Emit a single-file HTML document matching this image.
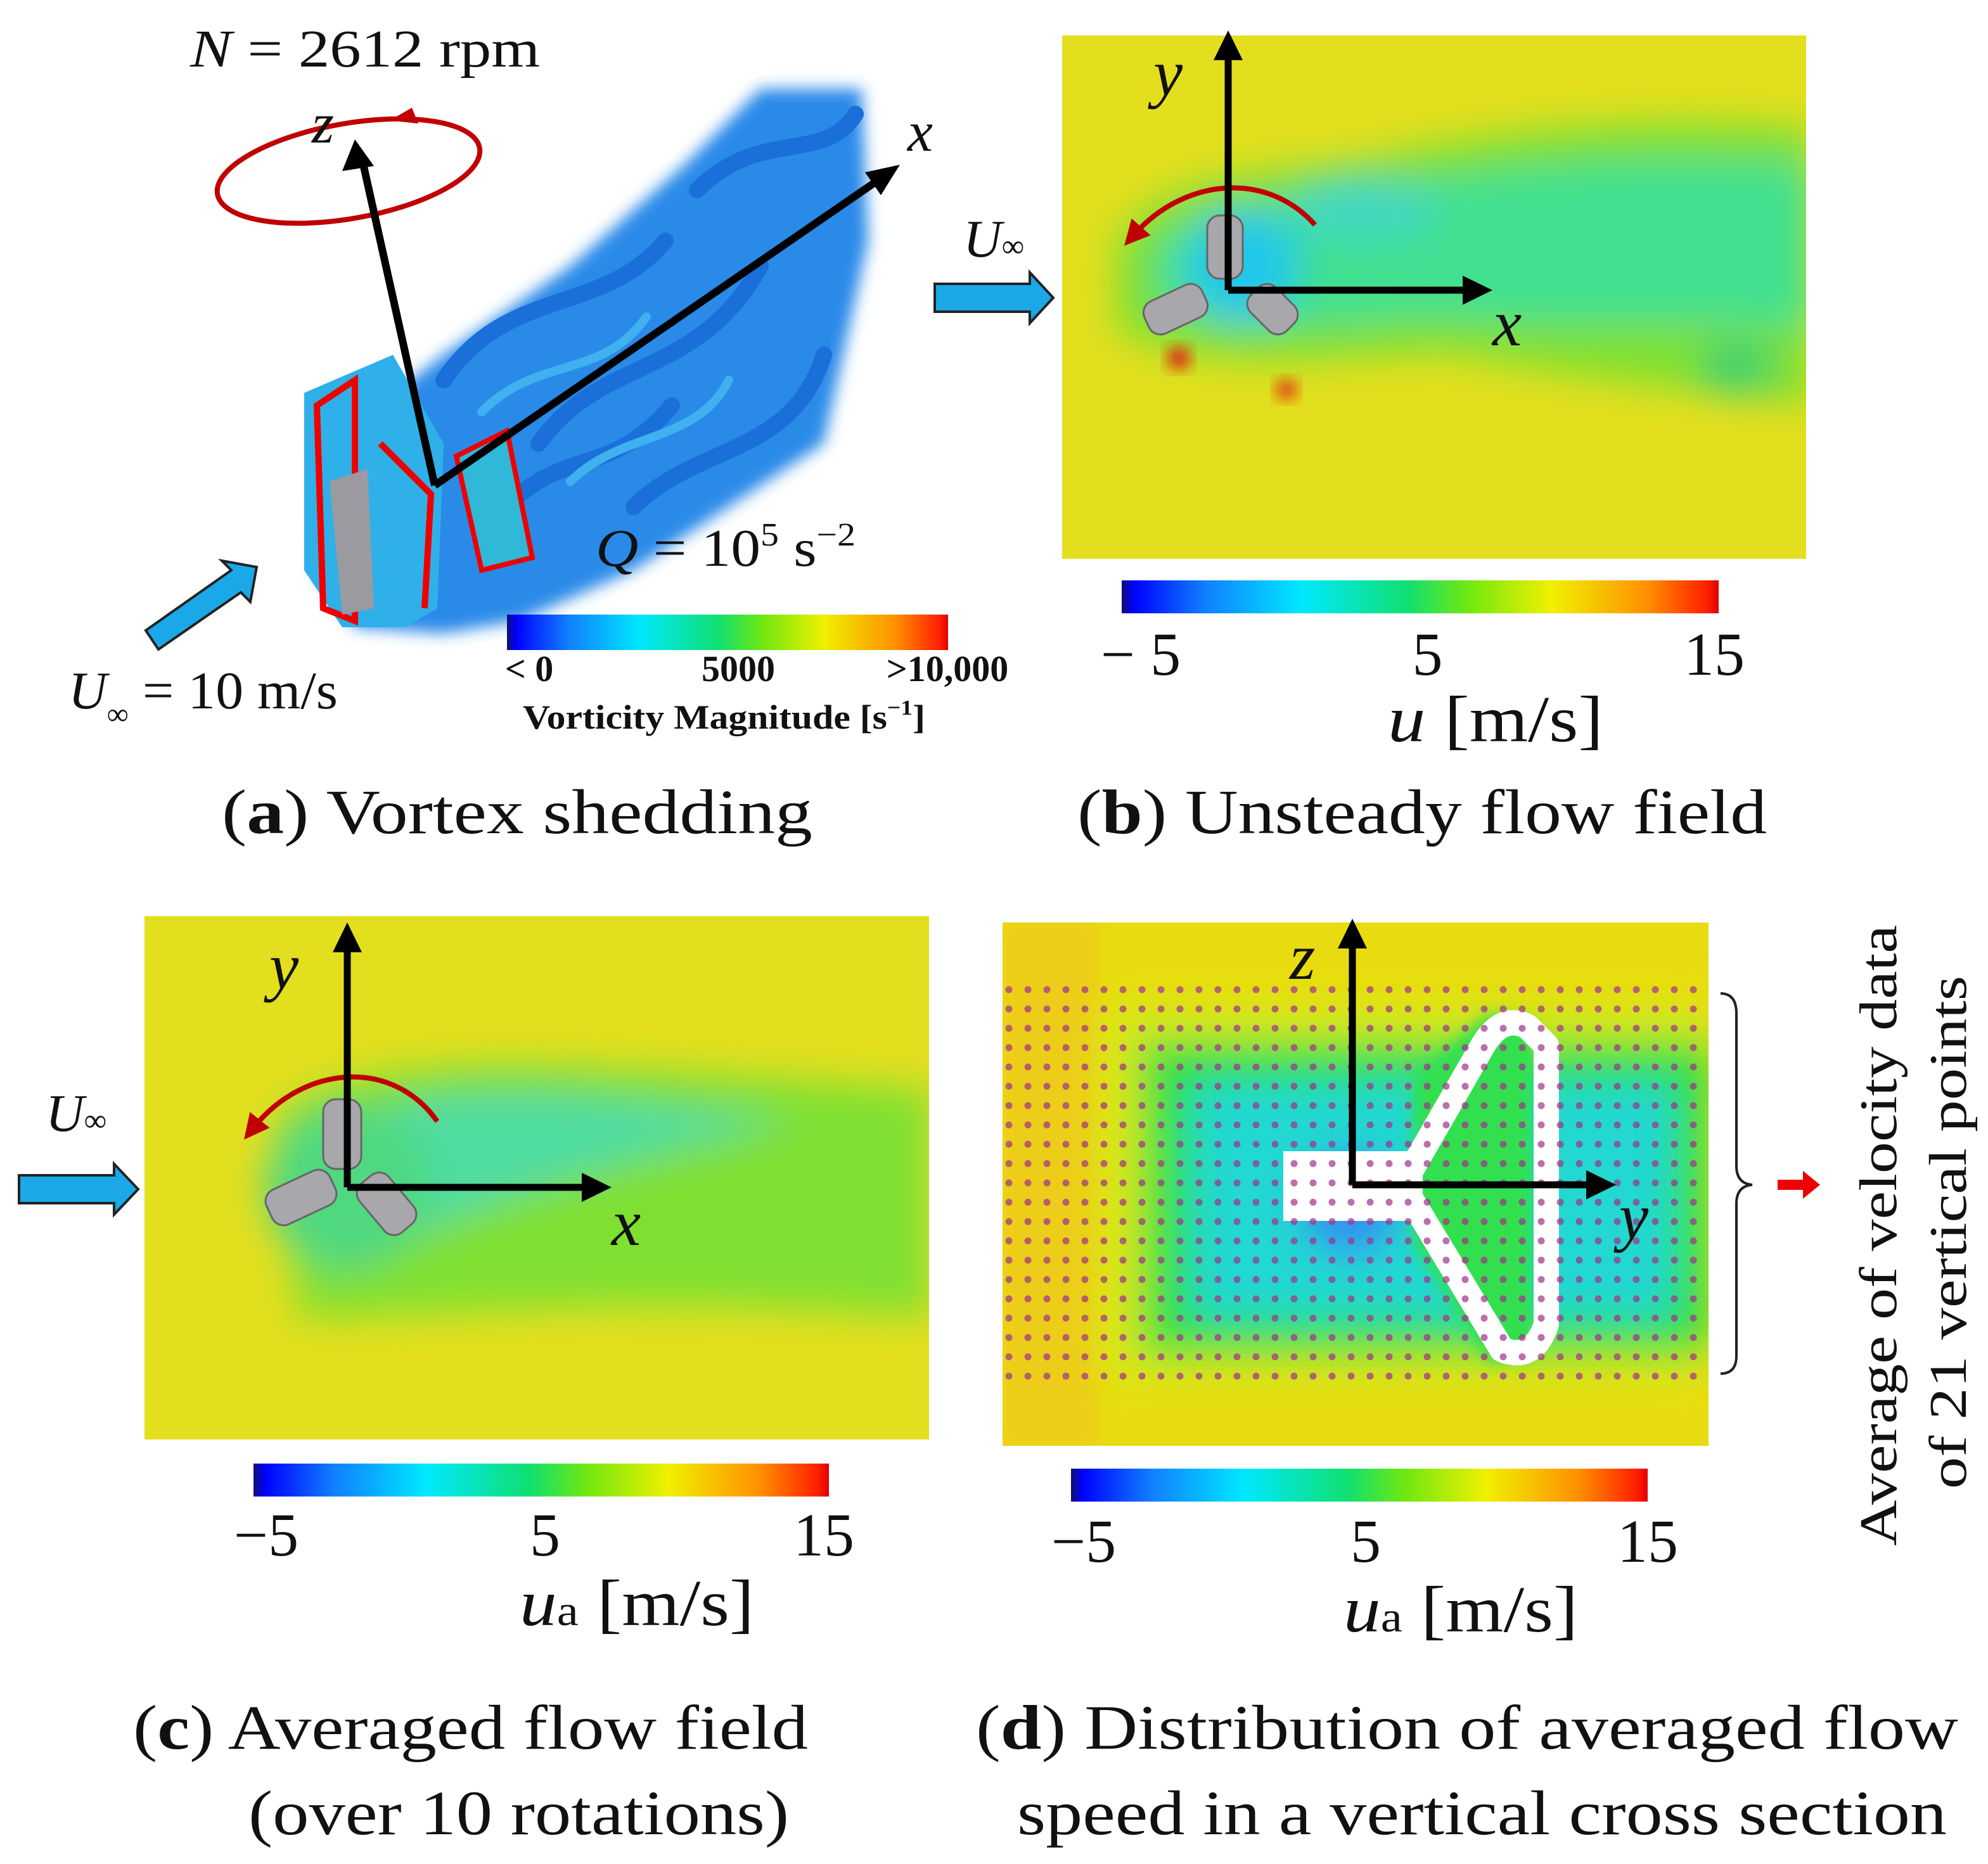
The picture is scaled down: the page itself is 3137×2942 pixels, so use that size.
<!DOCTYPE html>
<html><head><meta charset="utf-8"><style>
html,body{margin:0;padding:0;background:#fff}
svg{display:block}
text{font-family:"Liberation Serif",serif;fill:#111}
</style></head><body>
<svg id="fig" width="3137" height="2942" viewBox="0 0 3137 2942" xmlns="http://www.w3.org/2000/svg">
<defs>
<linearGradient id="jet" x1="0" x2="1" y1="0" y2="0">
<stop offset="0" stop-color="#101070"/><stop offset="0.02" stop-color="#0000ff"/><stop offset="0.14" stop-color="#1080ff"/>
<stop offset="0.3" stop-color="#00e8ff"/><stop offset="0.48" stop-color="#10e070"/><stop offset="0.58" stop-color="#70e810"/>
<stop offset="0.72" stop-color="#f0f000"/><stop offset="0.88" stop-color="#ff9000"/><stop offset="0.98" stop-color="#ff2000"/><stop offset="1" stop-color="#e00000"/>
</linearGradient>
<filter id="blur" x="-30%" y="-30%" width="160%" height="160%"><feGaussianBlur stdDeviation="30"/></filter>
<filter id="blur2" x="-30%" y="-30%" width="160%" height="160%"><feGaussianBlur stdDeviation="12"/></filter>
<clipPath id="cb"><rect x="1676" y="56" width="1174" height="826"/></clipPath>
<clipPath id="cc"><rect x="228" y="1446" width="1238" height="826"/></clipPath>
<clipPath id="cd"><rect x="1582" y="1456" width="1114" height="826"/></clipPath>
<marker id="ahr" markerWidth="5" markerHeight="5" refX="2" refY="2.5" orient="auto" markerUnits="strokeWidth"><path d="M0,0 L5,2.5 L0,5 z" fill="#c00000"/></marker>
</defs>

<!-- Panel A -->
<g>
<g>
<path d="M520,700 L700,560 L900,420 L1080,260 L1200,140 L1360,140 L1370,380 L1300,700 L1000,900 L820,980 L700,1000 L560,990 L500,900 z" fill="#2a8ae8" filter="url(#blur2)"/>
<g fill="none" stroke="#1a6fd8" stroke-width="26" stroke-linecap="round">
<path d="M700,600 C800,450 950,500 1050,380"/><path d="M850,700 C950,560 1100,600 1200,420"/>
<path d="M1000,800 C1100,700 1250,720 1300,560"/><path d="M1100,300 C1200,200 1300,260 1350,180"/>
<path d="M780,820 C880,700 960,760 1060,640"/>
</g>
<g fill="none" stroke="#40b0f0" stroke-width="14" stroke-linecap="round">
<path d="M760,650 C850,560 950,600 1020,500"/><path d="M900,760 C980,680 1100,700 1150,600"/>
</g>
<path d="M480,620 L620,560 L700,700 L690,960 L640,990 L540,990 L480,900 z" fill="#30b0e8"/>
<path d="M500,640 L560,600 L560,980 L510,960 z" fill="none" stroke="#e00" stroke-width="10"/>
<path d="M600,700 L680,780 L670,960" fill="none" stroke="#e00" stroke-width="10"/>
<path d="M520,760 L580,740 L590,960 L540,970 z" fill="#9a9aa0"/>
<path d="M720,720 L800,680 L840,880 L760,900 z" fill="#30b8d8" stroke="#e00" stroke-width="8"/>
</g>
<text x="300" y="105" font-size="84" textLength="552" lengthAdjust="spacingAndGlyphs"><tspan font-style="italic">N</tspan> = 2612 rpm</text>
<ellipse cx="550" cy="270" rx="210" ry="75" fill="none" stroke="#c00000" stroke-width="8" stroke-dasharray="1000 100" transform="rotate(-10 550 270)"/>
<path d="M660,195 L615,190 L650,170 z" fill="#c00000"/>
<line x1="686" y1="766" x2="570" y2="245" stroke="#000" stroke-width="12"/>
<path d="M560,220 L540,270 L590,262 z" fill="#000"/>
<line x1="686" y1="766" x2="1395" y2="278" stroke="#000" stroke-width="12"/>
<path d="M1420,260 L1365,272 L1390,308 z" fill="#000"/>
<text x="492" y="225" font-size="90" font-style="italic">z</text>
<text x="1432" y="238" font-size="90" font-style="italic">x</text>
<text x="940" y="893" font-size="84" textLength="410" lengthAdjust="spacingAndGlyphs"><tspan font-style="italic">Q</tspan> = 10<tspan font-size="52" dy="-32">5</tspan><tspan dy="32"> s</tspan><tspan font-size="52" dy="-32">−2</tspan></text>
<path d="M230,995 L365,900 L350,885 L405,895 L395,950 L380,935 L250,1025 z" fill="#1aa8e8" stroke="#222" stroke-width="4"/>
<text x="108" y="1118" font-size="84"><tspan font-style="italic">U</tspan><tspan font-size="48" dy="25">∞</tspan><tspan dy="-25" textLength="330" lengthAdjust="spacingAndGlyphs"> = 10 m/s</tspan></text>
<rect x="800" y="970" width="696" height="56" fill="url(#jet)"/>
<g id="ticksA" font-weight="bold" font-size="58"></g>
<text x="825" y="1150" font-size="54" font-weight="bold" textLength="635" lengthAdjust="spacingAndGlyphs">Vorticity Magnitude [s<tspan font-size="34" dy="-22">−1</tspan><tspan dy="22">]</tspan></text>
<text x="350" y="1315" font-size="100" textLength="932" lengthAdjust="spacingAndGlyphs">(<tspan font-weight="bold">a</tspan>) Vortex shedding</text>
</g>

<!-- Panel B -->
<g>
<g clip-path="url(#cb)">
<rect x="1676" y="56" width="1174" height="826" fill="#e3df1e"/>
<g filter="url(#blur)">
<path d="M1760,380 C1850,250 2050,280 2200,240 C2400,200 2600,180 2860,200 L2860,640 C2700,620 2500,600 2300,560 C2100,560 1900,600 1760,520 z" fill="#7ee030"/>
<path d="M1820,400 C1900,300 2050,330 2200,290 C2400,260 2600,240 2860,260 L2860,520 C2650,500 2450,520 2250,500 C2050,520 1900,530 1820,470 z" fill="#40e090"/>
<ellipse cx="1960" cy="420" rx="90" ry="90" fill="#20c8e8"/>
<ellipse cx="2150" cy="330" rx="120" ry="50" fill="#40d8c0"/>
<ellipse cx="2740" cy="580" rx="60" ry="40" fill="#30d070"/>
</g>
<circle cx="1860" cy="565" r="18" fill="#e02010" filter="url(#blur2)"/>
<circle cx="2030" cy="615" r="16" fill="#e03010" filter="url(#blur2)"/>
<g fill="#a8a8ac" stroke="#666" stroke-width="3">
<rect x="1905" y="340" width="56" height="100" rx="20"/>
<rect x="1805" y="460" width="100" height="56" rx="20" transform="rotate(-25 1855 488)"/>
<rect x="1968" y="460" width="80" height="56" rx="20" transform="rotate(45 2008 488)"/>
</g>
</g>
<path d="M2075,355 C2000,270 1870,280 1790,370" fill="none" stroke="#c00000" stroke-width="8" marker-end="url(#ahr)"/>
<line x1="1938" y1="458" x2="1938" y2="85" stroke="#000" stroke-width="11"/>
<path d="M1938,48 L1915,95 L1961,95 z" fill="#000"/>
<line x1="1938" y1="458" x2="2315" y2="458" stroke="#000" stroke-width="11"/>
<path d="M2355,458 L2308,435 L2308,481 z" fill="#000"/>
<text x="1820" y="150" font-size="104" font-style="italic">y</text>
<text x="2355" y="545" font-size="104" font-style="italic">x</text>
<text x="1520" y="405" font-size="84" font-style="italic">U<tspan font-size="50" font-style="normal">∞</tspan></text>
<path d="M1475,448 L1625,448 L1625,430 L1662,470 L1625,510 L1625,492 L1475,492 z" fill="#1aa8e8" stroke="#222" stroke-width="4"/>
<rect x="1770" y="916" width="942" height="52" fill="url(#jet)"/>
<g id="ticksB" font-size="96"></g>
<text x="2190" y="1170" font-size="104" textLength="340" lengthAdjust="spacingAndGlyphs"><tspan font-style="italic">u</tspan> [m/s]</text>
<text x="1700" y="1315" font-size="100" textLength="1088" lengthAdjust="spacingAndGlyphs">(<tspan font-weight="bold">b</tspan>) Unsteady flow field</text>
</g>

<!-- Panel C -->
<g>
<g clip-path="url(#cc)">
<rect x="228" y="1446" width="1238" height="826" fill="#e3df1e"/>
<g filter="url(#blur)">
<path d="M440,1760 C600,1640 900,1680 1470,1720 L1470,2080 C1000,2040 700,2080 470,2080 z" fill="#80e030"/>
<path d="M520,1780 C700,1690 900,1720 1250,1770 C1000,1830 800,1880 640,1960 C560,1960 500,1900 520,1780z" fill="#50dca0"/>
<circle cx="548" cy="1874" r="130" fill="#50d880"/>
</g>
<g fill="#a8a8ac" stroke="#666" stroke-width="3">
<rect x="510" y="1735" width="60" height="110" rx="20"/>
<rect x="420" y="1860" width="110" height="60" rx="20" transform="rotate(-25 475 1890)"/>
<rect x="560" y="1870" width="100" height="60" rx="20" transform="rotate(50 610 1900)"/>
</g>
</g>
<path d="M690,1770 C620,1670 480,1680 400,1780" fill="none" stroke="#c00000" stroke-width="8" marker-end="url(#ahr)"/>
<line x1="548" y1="1874" x2="548" y2="1495" stroke="#000" stroke-width="11"/>
<path d="M548,1456 L525,1503 L571,1503 z" fill="#000"/>
<line x1="548" y1="1874" x2="925" y2="1874" stroke="#000" stroke-width="11"/>
<path d="M965,1874 L918,1851 L918,1897 z" fill="#000"/>
<text x="425" y="1560" font-size="104" font-style="italic">y</text>
<text x="965" y="1965" font-size="104" font-style="italic">x</text>
<text x="72" y="1785" font-size="84" font-style="italic">U<tspan font-size="50" font-style="normal">∞</tspan></text>
<path d="M30,1855 L180,1855 L180,1837 L218,1877 L180,1917 L180,1899 L30,1899 z" fill="#1aa8e8" stroke="#222" stroke-width="4"/>
<rect x="400" y="2310" width="908" height="52" fill="url(#jet)"/>
<g id="ticksC" font-size="96"></g>
<text x="820" y="2565" font-size="104" textLength="370" lengthAdjust="spacingAndGlyphs"><tspan font-style="italic">u</tspan><tspan font-size="68">a</tspan> [m/s]</text>
<text x="210" y="2760" font-size="100" textLength="1065" lengthAdjust="spacingAndGlyphs">(<tspan font-weight="bold">c</tspan>) Averaged flow field</text>
<text x="392" y="2895" font-size="100" textLength="853" lengthAdjust="spacingAndGlyphs">(over 10 rotations)</text>
</g>

<!-- Panel D -->
<g>
<g clip-path="url(#cd)">
<rect x="1582" y="1456" width="1114" height="826" fill="#e8dc10"/>
<rect x="1582" y="1456" width="150" height="826" fill="#f0c020" opacity="0.5" filter="url(#blur2)"/>
<g filter="url(#blur)">
<rect x="1740" y="1580" width="950" height="600" fill="#d8e818"/>
<rect x="1800" y="1640" width="900" height="500" fill="#30e040"/>
<rect x="1880" y="1710" width="760" height="370" fill="#20d8d0"/>
<circle cx="2130" cy="1900" r="80" fill="#3090f0"/>
</g>
<path d="M2230,1700 L2350,1600 L2420,1610 L2420,2140 L2350,2150 L2230,1960 z" fill="#30e050" filter="url(#blur2)"/>
<g fill="none" stroke="#fff" stroke-width="40" stroke-linejoin="round">
<path d="M2225,1850 L2340,1650 Q2370,1600 2410,1620 L2440,1650 L2440,2090 Q2420,2150 2370,2130 L2225,1890"/>
</g>
<rect x="2025" y="1817" width="220" height="110" fill="#fff"/>
<g id="dots" fill="#a0308c"></g>
</g>
<line x1="2134" y1="1870" x2="2134" y2="1490" stroke="#000" stroke-width="11"/>
<path d="M2134,1450 L2111,1497 L2157,1497 z" fill="#000"/>
<line x1="2134" y1="1870" x2="2510" y2="1870" stroke="#000" stroke-width="11"/>
<path d="M2550,1870 L2503,1847 L2503,1893 z" fill="#000"/>
<text x="2035" y="1545" font-size="104" font-style="italic">z</text>
<text x="2555" y="1955" font-size="104" font-style="italic">y</text>
<path d="M2715,1568 Q2740,1568 2740,1600 L2740,1840 Q2740,1868 2765,1870 Q2740,1872 2740,1900 L2740,2140 Q2740,2168 2715,2168" fill="none" stroke="#222" stroke-width="4"/>
<path d="M2805,1862 L2845,1862 L2845,1848 L2872,1870 L2845,1892 L2845,1878 L2805,1878 z" fill="#e00"/>
<text transform="translate(2992,1950) rotate(-90)" font-size="84" text-anchor="middle" textLength="980" lengthAdjust="spacingAndGlyphs">Average of velocity data</text>
<text transform="translate(3102,1945) rotate(-90)" font-size="84" text-anchor="middle" textLength="810" lengthAdjust="spacingAndGlyphs">of 21 vertical points</text>
<rect x="1690" y="2318" width="910" height="52" fill="url(#jet)"/>
<g id="ticksD" font-size="96"></g>
<text x="2120" y="2575" font-size="104" textLength="370" lengthAdjust="spacingAndGlyphs"><tspan font-style="italic">u</tspan><tspan font-size="68">a</tspan> [m/s]</text>
<text x="1540" y="2760" font-size="100" textLength="1550" lengthAdjust="spacingAndGlyphs">(<tspan font-weight="bold">d</tspan>) Distribution of averaged flow</text>
<text x="1605" y="2895" font-size="100" textLength="1467" lengthAdjust="spacingAndGlyphs">speed in a vertical cross section</text>
</g>
</svg>
<script>
const vortTicks=["< 0","5000",">10,000"];
const vortVals=[0,5000,10000];
const uTicks=["\u2212 5","5","15"];
const uVals=[-5,5,15];
const uaTicks=["\u22125","5","15"];
const uaVals=[-5,5,15];
const NS="http://www.w3.org/2000/svg";
function addTicks(id,labels,vals,min,max,x0,x1,y){
  const g=document.getElementById(id);
  labels.forEach((l,i)=>{
    const t=document.createElementNS(NS,'text');
    
    
    t.setAttribute('x',x0+(vals[i]-min)/(max-min)*(x1-x0));
    t.setAttribute('y',y);
    t.setAttribute('text-anchor','middle');
    t.textContent=l;g.appendChild(t);
  });
}
addTicks('ticksA',vortTicks,vortVals,0,10000,835,1495,1075);
addTicks('ticksB',uTicks,uVals,-5,15,1800,2705,1065);
addTicks('ticksC',uaTicks,uaVals,-5,15,420,1300,2455);
addTicks('ticksD',uaTicks,uaVals,-5,15,1710,2600,2465);
const dotRows=21, dotCols=37;
const dg=document.getElementById('dots');
for(let r=0;r<dotRows;r++)for(let c=0;c<dotCols;c++){
  const d=document.createElementNS(NS,'circle');
  
  
  d.setAttribute('cx',1592+c*30);d.setAttribute('cy',1562+r*30.5);d.setAttribute('r',5.5);
  d.setAttribute('opacity','0.7');
  dg.appendChild(d);
}
</script>
</body></html>
